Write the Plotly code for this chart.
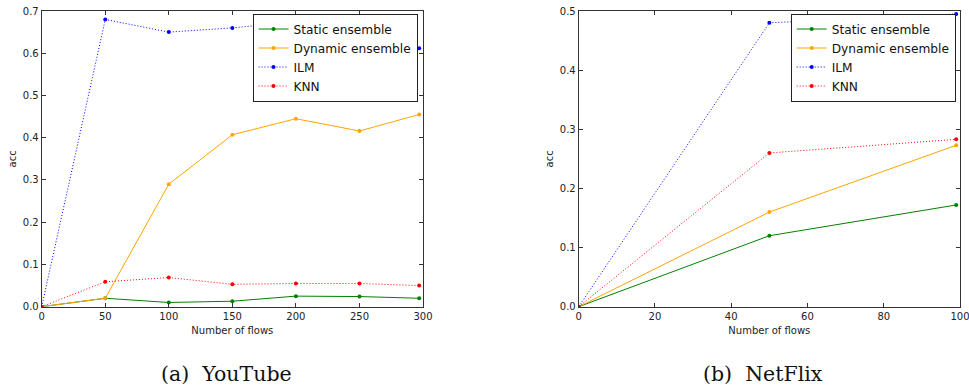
import plotly.graph_objects as go

# ---- data: (a) YouTube ----
yt_x = [0, 50, 100, 150, 200, 250, 297]
yt_static = [0.0, 0.020, 0.010, 0.013, 0.025, 0.024, 0.020]
yt_dynamic = [0.0, 0.020, 0.290, 0.407, 0.445, 0.416, 0.455]
yt_ilm = [0.0, 0.680, 0.650, 0.660, 0.675, 0.655, 0.612]
yt_knn = [0.0, 0.059, 0.069, 0.053, 0.055, 0.055, 0.050]

# ---- data: (b) NetFlix ----
nf_x = [0, 50, 99]
nf_static = [0.0, 0.120, 0.172]
nf_dynamic = [0.0, 0.160, 0.273]
nf_ilm = [0.0, 0.480, 0.495]
nf_knn = [0.0, 0.260, 0.283]

series_names = ["Static ensemble", "Dynamic ensemble", "ILM", "KNN"]
series_colors = ["#008000", "#ffa500", "#0000ff", "#ff0000"]
series_dash = ["solid", "solid", "1px,2px", "1px,2px"]

yt_ticks_x = [0, 50, 100, 150, 200, 250, 300]
yt_ticks_y = [0.0, 0.1, 0.2, 0.3, 0.4, 0.5, 0.6, 0.7]
nf_ticks_x = [0, 20, 40, 60, 80, 100]
nf_ticks_y = [0.0, 0.1, 0.2, 0.3, 0.4, 0.5]

captions = ["(a)  YouTube", "(b)  NetFlix"]

W, H = 969, 390
fig = go.Figure()

yt_series = [yt_static, yt_dynamic, yt_ilm, yt_knn]
nf_series = [nf_static, nf_dynamic, nf_ilm, nf_knn]

for name, col, dash, ys in zip(series_names, series_colors, series_dash, yt_series):
    fig.add_trace(go.Scatter(
        x=yt_x, y=ys, name=name, mode="lines+markers",
        line=dict(color=col, width=1, dash=dash),
        marker=dict(color=col, size=4),
        xaxis="x", yaxis="y", legend="legend",
    ))
for name, col, dash, ys in zip(series_names, series_colors, series_dash, nf_series):
    fig.add_trace(go.Scatter(
        x=nf_x, y=ys, name=name, mode="lines+markers",
        line=dict(color=col, width=1, dash=dash),
        marker=dict(color=col, size=4),
        xaxis="x2", yaxis="y2", legend="legend2",
    ))

tick_font = dict(family="DejaVu Sans", size=10, color="#222")
axis_common = dict(
    showline=True, linecolor="#333", linewidth=1, mirror="allticks",
    ticks="inside", ticklen=4, tickcolor="#333", tickwidth=1,
    showgrid=False, zeroline=False, tickfont=tick_font, automargin=False,
    ticklabeloverflow="allow",
)

legend_style = dict(
    xanchor="left", yanchor="top",
    bgcolor="white", bordercolor="#222", borderwidth=1,
    font=dict(family="DejaVu Sans", size=12.2, color="#111"),
    tracegroupgap=0, itemwidth=30,
)

ydom = [1 - 306.7 / H, 1 - 11 / H]
fig.update_layout(
    width=W, height=H,
    margin=dict(l=0, r=0, t=0, b=0),
    paper_bgcolor="white", plot_bgcolor="white",
    xaxis=dict(domain=[41.7 / W, 423 / W], range=[0, 300], tickvals=yt_ticks_x,
               title=dict(text="Number of flows", font=tick_font, standoff=6),
               anchor="y", **axis_common),
    yaxis=dict(domain=ydom, range=[0, 0.7], tickvals=yt_ticks_y, tickformat=".1f",
               title=dict(text="acc", font=tick_font, standoff=4),
               anchor="x", **axis_common),
    xaxis2=dict(domain=[578.7 / W, 960 / W], range=[0, 100], tickvals=nf_ticks_x,
                title=dict(text="Number of flows", font=tick_font, standoff=6),
                anchor="y2", **axis_common),
    yaxis2=dict(domain=ydom, range=[0, 0.5], tickvals=nf_ticks_y, tickformat=".1f",
                title=dict(text="acc", font=tick_font, standoff=4),
                anchor="x2", **axis_common),
    legend=dict(x=252.5 / W, y=1 - 13.5 / H, **legend_style),
    legend2=dict(x=790.7 / W, y=1 - 13.5 / H, **legend_style),
    showlegend=True,
)

for txt, cx in zip(captions, [226, 763]):
    fig.add_annotation(text=txt, x=cx / W, y=1 - 374 / H, xref="paper", yref="paper",
                       xanchor="center", yanchor="middle", showarrow=False,
                       font=dict(family="DejaVu Serif", size=20.5, color="#111"))

fig.write_html("out.html",
               config={"displayModeBar": False},
               post_script="document.body.style.margin='0';document.body.style.overflow='hidden';")
